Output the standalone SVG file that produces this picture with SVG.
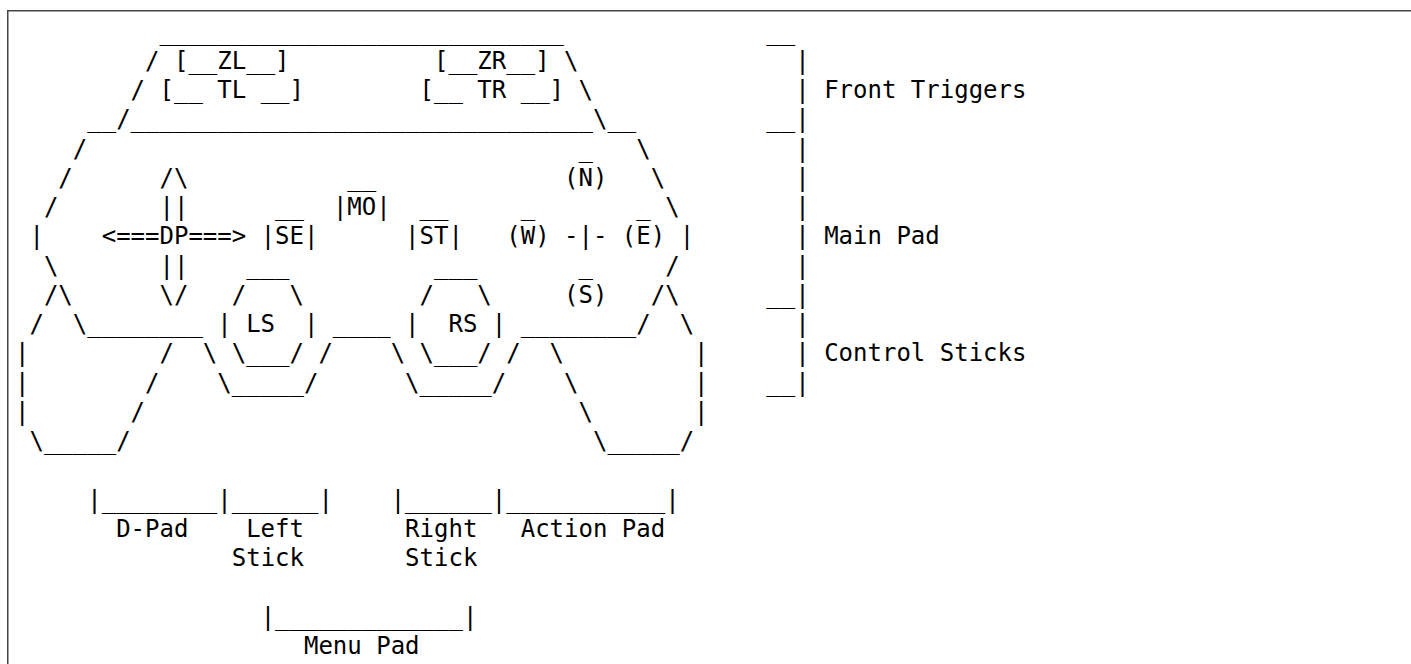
<svg xmlns="http://www.w3.org/2000/svg" width="1411" height="664" viewBox="0 0 1411 664">
<style>
text{font-family:"DejaVu Sans Mono","Liberation Mono",monospace;font-size:24px;fill:#000;}
.frame{fill:none;stroke:#444;stroke-width:1.5;}
</style>
<rect width="1411" height="664" fill="#fff"/>
<path class="frame" d="M7.75,664 V10.75 H1411"/>
<g id="controller">
<text y="39.5"><tspan x="159.49">____________________________</tspan></text>
<text y="68.75"><tspan x="145.04">/</tspan><tspan x="173.94">[__ZL__]</tspan><tspan x="434.02">[__ZR__]</tspan><tspan x="564.06">\</tspan></text>
<text y="98"><tspan x="130.59">/</tspan><tspan x="159.49">[__ TL __]</tspan><tspan x="419.57">[__ TR __]</tspan><tspan x="578.51">\</tspan></text>
<text y="127.25"><tspan x="87.25">__/________________________________\__</tspan></text>
<text y="156.5"><tspan x="72.8">/</tspan><tspan x="578.51">_</tspan><tspan x="636.31">\</tspan></text>
<text y="185.75"><tspan x="58.35">/</tspan><tspan x="159.49">/\</tspan><tspan x="347.33">__</tspan><tspan x="564.06">(N)</tspan><tspan x="650.76">\</tspan></text>
<text y="215"><tspan x="43.9">/</tspan><tspan x="159.49">||</tspan><tspan x="275.08">__</tspan><tspan x="332.88">|MO|</tspan><tspan x="419.57">__</tspan><tspan x="520.72">_</tspan><tspan x="636.31">_ \</tspan></text>
<text y="244.25"><tspan x="29.45">|</tspan><tspan x="101.69">&lt;===DP===&gt; |SE|</tspan><tspan x="405.12">|ST|</tspan><tspan x="506.27">(W) -|- (E) |</tspan></text>
<text y="273.5"><tspan x="43.9">\</tspan><tspan x="159.49">||</tspan><tspan x="246.18">___</tspan><tspan x="434.02">___</tspan><tspan x="578.51">_</tspan><tspan x="665.21">/</tspan></text>
<text y="302.75"><tspan x="43.9">/\</tspan><tspan x="159.49">\/</tspan><tspan x="231.74">/</tspan><tspan x="289.53">\</tspan><tspan x="419.57">/</tspan><tspan x="477.37">\</tspan><tspan x="564.06">(S)</tspan><tspan x="650.76">/\</tspan></text>
<text y="332"><tspan x="29.45">/</tspan><tspan x="72.8">\________ |</tspan><tspan x="246.18">LS</tspan><tspan x="303.98">| ____ |</tspan><tspan x="448.47">RS</tspan><tspan x="491.82">| ________/</tspan><tspan x="679.65">\</tspan></text>
<text y="361.25"><tspan x="15">|</tspan><tspan x="159.49">/</tspan><tspan x="202.84">\ \___/ /</tspan><tspan x="390.67">\ \___/ /</tspan><tspan x="549.61">\</tspan><tspan x="694.1">|</tspan></text>
<text y="390.5"><tspan x="15">|</tspan><tspan x="145.04">/</tspan><tspan x="217.29">\_____/</tspan><tspan x="405.12">\_____/</tspan><tspan x="564.06">\</tspan><tspan x="694.1">|</tspan></text>
<text y="419.75"><tspan x="15">|</tspan><tspan x="130.59">/</tspan><tspan x="578.51">\</tspan><tspan x="694.1">|</tspan></text>
<text y="449"><tspan x="29.45">\_____/</tspan><tspan x="592.96">\_____/</tspan></text>
</g>
<g id="side-brackets">
<text y="39.5"><tspan x="766.35">__</tspan></text>
<text y="68.75"><tspan x="795.25">|</tspan></text>
<text y="98"><tspan x="795.25">| Front Triggers</tspan></text>
<text y="127.25"><tspan x="766.35">__|</tspan></text>
<text y="156.5"><tspan x="795.25">|</tspan></text>
<text y="185.75"><tspan x="795.25">|</tspan></text>
<text y="215"><tspan x="795.25">|</tspan></text>
<text y="244.25"><tspan x="795.25">| Main Pad</tspan></text>
<text y="273.5"><tspan x="795.25">|</tspan></text>
<text y="302.75"><tspan x="766.35">__|</tspan></text>
<text y="332"><tspan x="795.25">|</tspan></text>
<text y="361.25"><tspan x="795.25">| Control Sticks</tspan></text>
<text y="390.5"><tspan x="766.35">__|</tspan></text>
</g>
<g id="bottom-brackets">
<text y="507.5"><tspan x="87.25">|________|______|</tspan><tspan x="390.67">|______|___________|</tspan></text>
<text y="536.75"><tspan x="116.14">D-Pad</tspan><tspan x="246.18">Left</tspan><tspan x="405.12">Right</tspan><tspan x="520.72">Action Pad</tspan></text>
<text y="566"><tspan x="231.74">Stick</tspan><tspan x="405.12">Stick</tspan></text>
<text y="624.5"><tspan x="260.63">|_____________|</tspan></text>
<text y="653.75"><tspan x="303.98">Menu Pad</tspan></text>
</g>
</svg>
